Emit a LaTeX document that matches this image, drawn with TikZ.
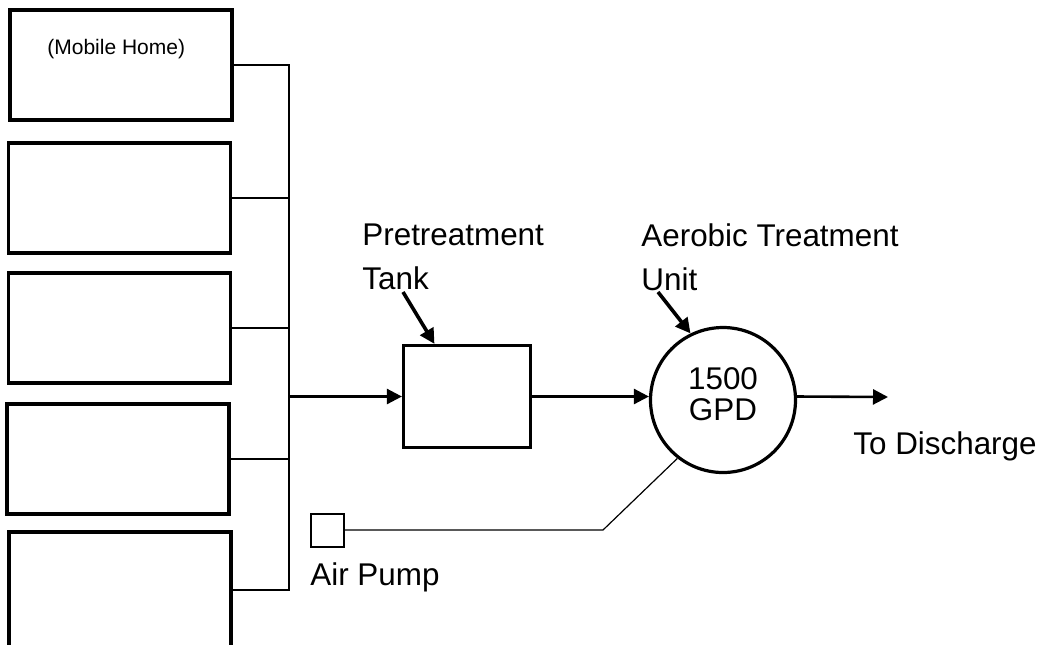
\documentclass[tikz,border=0pt]{standalone}
\usepackage{fontspec}
\setmainfont{Liberation Sans}
\usetikzlibrary{positioning,arrows.meta,calc}

\begin{document}
\begin{tikzpicture}[x=0.5pt,y=-0.5pt,
  font=\fontsize{15.7}{22}\selectfont,
  home/.style={draw,line width=1.6pt,minimum width=111pt,minimum height=55pt,inner sep=0pt},
  tank/.style={draw,line width=1.6pt,minimum width=63.5pt,minimum height=51pt,inner sep=0pt},
  unit/.style={draw,circle,line width=1.6pt,minimum size=72.5pt,inner sep=0pt,align=center,text depth=6pt,font=\fontsize{15.7}{15.5}\selectfont},
  pump/.style={draw,line width=1pt,minimum size=16.5pt,inner sep=0pt},
  pipe/.style={line width=1pt},
  arr/.style={-{Triangle[length=7.5pt,width=7.5pt]},line width=1.3pt},
  tag/.style={arr,line width=1.8pt},
  air/.style={line width=0.6pt},
  lbl/.style={inner sep=0pt,align=left}]
  \useasboundingbox (0,0) rectangle (1048,644);

  % homes on the left
  \node[home] (home1) at (121,65) {};
  \node[home] (home2) at (119.5,198) {};
  \node[home] (home3) at (119.5,328) {};
  \node[home] (home4) at (118,459) {};
  \node[home,minimum height=58pt] (home5) at (120,590) {};
  \node[lbl,anchor=base west,font=\fontsize{10.5}{12}\selectfont] (mh) at (47,54) {(Mobile Home)};

  % treatment train
  \node[tank] (tank) at (467,396.5) {};
  \node[unit] (atu) at (723,400) {1500\\GPD};
  \node[pump] (pump) at (327,530) {};

  \node[lbl,anchor=north west] (ptLabel) at (362,223) {Pretreatment\\Tank};
  \node[lbl,anchor=north west] (atuLabel) at (641,223) {Aerobic Treatment\\Unit};
  \node[lbl,anchor=base west] (outLabel) at (853,454) {To Discharge};
  \node[lbl,anchor=base west] (pumpLabel) at (310,585) {Air Pump};

  \coordinate (busTop) at (289,65);
  \coordinate (busBot) at (289,590);
  \coordinate (tankTail) at (403,292);
  \coordinate (unitTail) at (658,292);
  \coordinate (out) at (888,397);
  \coordinate (bend) at (603,530);

  \draw[pipe] (home1.east) -- (busTop) -- (busBot) -- (home5.east);
  \foreach \i in {2,3,4}
    \draw[pipe] (home\i.east) -- (home\i.east -| busTop);
  \draw[arr] (busTop |- tank.west) -- (tank.west);
  \draw[arr] (tank.east) -- (tank.east -| atu.west);
  \draw[arr] (atu.east |- tank.east) -- (out);
  \draw[tag] (tankTail) -- ($(tank.north west)!0.25!(tank.north east)$);
  \draw[tag] (unitTail) -- (atu.116);
  \draw[air] (pump.east) -- (bend) -- (atu.232);
\end{tikzpicture}
\end{document}
